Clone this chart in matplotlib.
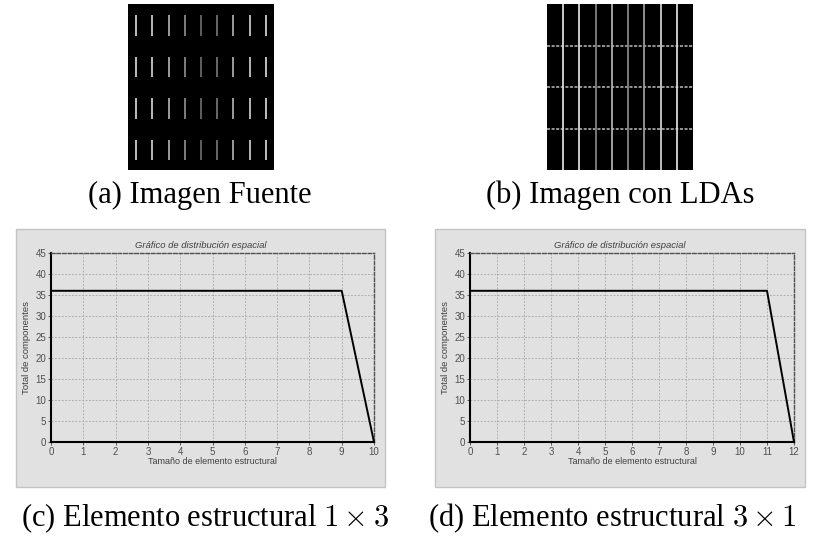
import numpy as np
import matplotlib.pyplot as plt
from matplotlib.patches import Rectangle

plt.rcParams['mathtext.fontset'] = 'cm'

# top images: 9 columns x 4 rows
n_cols = 9
n_rows = 4
gray_a = [0.95, 0.92, 0.78, 0.62, 0.48, 0.52, 0.78, 0.9, 0.95]
seg_a = [0.27, 0.76]
gray_b = [0.85, 0.85, 0.5, 0.68, 0.52, 0.6, 0.8, 0.85]

# charts
sizes_c = [0, 1, 2, 3, 4, 5, 6, 7, 8, 9, 10]
counts_c = [36, 36, 36, 36, 36, 36, 36, 36, 36, 36, 0]
sizes_d = [0, 1, 2, 3, 4, 5, 6, 7, 8, 9, 10, 11, 12]
counts_d = [36, 36, 36, 36, 36, 36, 36, 36, 36, 36, 36, 36, 0]
yticks = [0, 5, 10, 15, 20, 25, 30, 35, 40, 45]

captions = ['(a) Imagen Fuente', '(b) Imagen con LDAs',
            r'(c) Elemento estructural $1 \times 3$',
            r'(d) Elemento estructural $3 \times 1$']
chart_title = 'Gráfico de distribución espacial'
xlab = 'Tamaño de elemento estructural'
ylab = 'Total de componentes'

W, H = 813, 542
fig = plt.figure(figsize=(W / 100, H / 100), dpi=100)


def rect(x0, y0, x1, y1):
    return [x0 / W, 1 - y1 / H, (x1 - x0) / W, (y1 - y0) / H]


def image_axes(box):
    ax = fig.add_axes(rect(*box))
    ax.set_facecolor('black')
    ax.set_xlim(0, n_cols)
    ax.set_ylim(n_rows, 0)
    ax.set_xticks([])
    ax.set_yticks([])
    for s in ax.spines.values():
        s.set_visible(False)
    return ax


# (a) source image
ax = image_axes((128, 4, 274, 170))
for i in range(n_cols):
    for j in range(n_rows):
        ax.vlines(i + 0.5, j + seg_a[0], j + seg_a[1], color=str(gray_a[i]), lw=1.1)

# (b) image with LDAs
ax = image_axes((547, 4, 693, 170))
for j in range(1, n_rows):
    ax.hlines(j, 0, n_cols, color='#bdbdbd', lw=1.1, linestyle=(0, (2, 1)))
for i in range(1, n_cols):
    ax.vlines(i, 0, n_rows, color=str(gray_b[i - 1]), lw=1.3)


def chart(panel, box, xs, ys):
    px0, py0, px1, py1 = panel
    fig.patches.append(Rectangle((px0 / W, 1 - py1 / H), (px1 - px0) / W, (py1 - py0) / H,
                                 transform=fig.transFigure, facecolor='#e1e1e1',
                                 edgecolor='#c4c4c4', lw=1.0, zorder=-1))
    fig.text((px0 + px1) / 2 / W, 1 - 245 / H, chart_title, ha='center', va='center',
             fontsize=6.8, style='italic', color='#404040', family='Liberation Sans')
    ax = fig.add_axes(rect(*box))
    ax.set_facecolor('#e1e1e1')
    ax.set_xlim(0, xs[-1])
    ax.set_ylim(0, 45)
    ax.set_xticks(xs)
    ax.set_yticks(yticks)
    ax.grid(True, color='#b0b0b0', lw=0.7, linestyle=(0, (2, 1.5)))
    ax.plot(xs, ys, color='black', lw=1.4, clip_on=False, zorder=3)
    ax.spines['left'].set_color('black')
    ax.spines['left'].set_linewidth(1.5)
    ax.spines['bottom'].set_color('black')
    ax.spines['bottom'].set_linewidth(1.5)
    ax.spines['bottom'].set_linestyle((0, (1.5, 1)))
    for s in ('top', 'right'):
        ax.spines[s].set_color('#505050')
        ax.spines[s].set_linewidth(1.0)
        ax.spines[s].set_linestyle((0, (2.5, 1.5)))
    ax.tick_params(length=2, width=0.6, color='#404040', labelsize=7,
                   labelcolor='#505050', pad=1.5)
    for lbl in ax.get_xticklabels() + ax.get_yticklabels():
        lbl.set_family('Liberation Sans')
    ax.set_xlabel(xlab, fontsize=6.5, color='#404040', family='Liberation Sans', labelpad=0)
    ax.set_ylabel(ylab, fontsize=6.8, color='#404040', family='Liberation Sans', labelpad=3)
    return ax


chart((16, 229, 385, 487), (51, 253, 374, 442), sizes_c, counts_c)
chart((435, 229, 805, 487), (470, 253, 794, 442), sizes_d, counts_d)

cap_pos = [(200, 195), (620, 195), (205, 518), (612, 518)]
for (cx, cy), txt in zip(cap_pos, captions):
    fig.text(cx / W, 1 - cy / H, txt, ha='center', va='center', fontsize=22,
             family='Liberation Serif', color='black')

fig.savefig('out.png', dpi=100)
